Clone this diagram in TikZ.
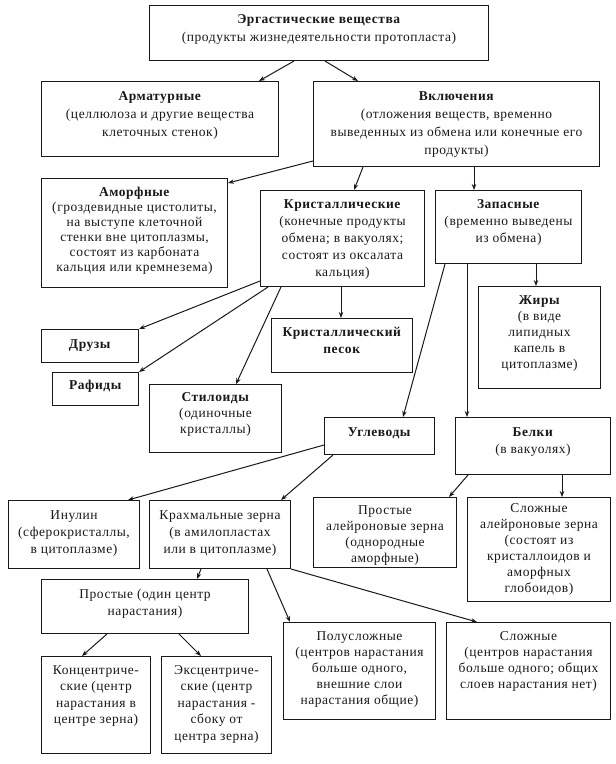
\documentclass[tikz,border=0pt]{standalone}
\usepackage{fontspec}
\setmainfont{Liberation Serif}[LetterSpace=4]
\usetikzlibrary{arrows.meta}
\newcommand\bxt[5][16]{\parbox[c][#3pt][t]{#2pt}{\fontsize{13.5}{#1}\selectfont\centering\vspace*{#4pt}\strut #5\par}}
\tikzset{
  bx/.style={draw=black!90, line width=1pt, inner sep=0pt, anchor=north west, text=black!90, fill=white},
  arr/.style={draw=black!90, line width=1pt, -{Stealth[length=6pt,width=4.5pt]}},
}
\begin{document}
\begin{tikzpicture}[x=1pt,y=-1pt]
\useasboundingbox[fill=white] (0,0) rectangle (616,764);
% level 0
\node[bx] (top) at (149,5) {\bxt[18]{339}{55}{5}{\textbf{Эргастические вещества}\\(продукты жизнедеятельности протопласта)}};
% level 1
\node[bx] (arm) at (41,81) {\bxt[18]{237}{75}{6}{\textbf{Арматурные}\\(целлюлоза и другие вещества\\клеточных стенок)}};
\node[bx] (vkl) at (313,81) {\bxt[18]{286}{85}{6}{\textbf{Включения}\\(отложения веществ, временно\\выведенных из обмена или конечные его\\продукты)}};
% level 2
\node[bx] (amo) at (41,178) {\bxt[15]{186}{109}{7}{\textbf{Аморфные}\\(гроздевидные цистолиты,\\на выступе клеточной\\стенки вне цитоплазмы,\\состоят из карбоната\\кальция или кремнезема)}};
\node[bx] (kri) at (260,190) {\bxt[17]{164}{96}{6}{\textbf{Кристаллические}\\(конечные продукты\\обмена; в вакуолях;\\состоят из оксалата\\кальция)}};
\node[bx] (zap) at (435,190) {\bxt[17]{146}{73}{6}{\textbf{Запасные}\\(временно выведены\\из обмена)}};
% level 3
\node[bx] (zhi) at (478,286) {\bxt{122}{102}{7}{\textbf{Жиры}\\(в виде\\липидных\\капель в\\цитоплазме)}};
\node[bx] (dru) at (41,329) {\bxt{97}{33}{8}{\textbf{Друзы}}};
\node[bx] (raf) at (52,372) {\bxt{86}{33}{6}{\textbf{Рафиды}}};
\node[bx] (pes) at (271,318) {\bxt[17]{141}{54}{6}{\textbf{Кристаллический}\\\textbf{песок}}};
\node[bx] (sti) at (149,384) {\bxt{132}{68}{6}{\textbf{Стилоиды}\\(одиночные\\кристаллы)}};
\node[bx] (ugl) at (324,417) {\bxt{110}{37}{8}{\textbf{Углеводы}}};
\node[bx] (bel) at (455,417) {\bxt[17]{155}{57}{7}{\textbf{Белки}\\(в вакуолях)}};
% level 4
\node[bx] (inu) at (8,500) {\bxt[17]{131}{68}{7}{Инулин\\(сферокристаллы,\\в цитоплазме)}};
\node[bx] (kra) at (149,500) {\bxt[17]{141}{68}{7}{Крахмальные зерна\\(в амилопластах\\или в цитоплазме)}};
\node[bx] (pal) at (313,497) {\bxt{143}{70}{6}{Простые\\алейроновые зерна\\(однородные\\аморфные)}};
\node[bx] (sal) at (467,497) {\bxt{143}{104}{4}{Сложные\\алейроновые зерна\\(состоят из\\кристаллоидов и\\аморфных\\глобоидов)}};
% level 5
\node[bx] (pro) at (41,579) {\bxt[17]{207}{54}{7}{Простые (один центр\\нарастания)}};
\node[bx] (kon) at (41,656) {\bxt[16.5]{109}{97}{6}{Концентриче-\\ские (центр\\нарастания в\\центре зерна)}};
\node[bx] (eks) at (161,656) {\bxt[16.5]{110}{97}{6}{Эксцентриче-\\ские (центр\\нарастания -\\сбоку от\\центра зерна)}};
\node[bx] (pol) at (283,622) {\bxt{152}{97}{7}{Полусложные\\(центров нарастания\\больше одного,\\внешние слои\\нарастания общие)}};
\node[bx] (slo) at (446,622) {\bxt{164}{97}{7}{Сложные\\(центров нарастания\\больше одного; общих\\слоев нарастания нет)}};
% connectors
\draw[arr] ([xshift=145pt]top.south west) -- ([xshift=218pt]arm.north west);
\draw[arr] ([xshift=176pt]top.south west) -- ([xshift=45pt]vkl.north west);
\draw[arr] ([yshift=6pt]vkl.south west) -- ([yshift=-5pt]amo.north east);
\draw[arr] ([xshift=50pt]vkl.south west) -- ([xshift=94pt]kri.north west);
\draw[arr] ([xshift=161pt]vkl.south west) -- ([xshift=39pt]zap.north west);
\draw[arr] ([yshift=6pt]kri.south west) -- (dru.north east);
\draw[arr] ([xshift=8pt]kri.south west) -- (raf.north east);
\draw[arr] ([xshift=21pt]kri.south west) -- ([xshift=87pt]sti.north west);
\draw[arr] ([xshift=81pt]kri.south west) -- ([xshift=70pt]pes.north west);
\draw[arr] ([xshift=10pt]zap.south west) -- ([xshift=79pt]ugl.north west);
\draw[arr] ([xshift=32pt]zap.south west) -- ([xshift=12pt]bel.north west);
\draw[arr] ([xshift=101pt]zap.south west) -- ([xshift=58pt]zhi.north west);
\draw[arr] ([yshift=10pt]ugl.south west) -- ([xshift=120pt]inu.north west);
\draw[arr] ([xshift=9pt]ugl.south west) -- ([xshift=132pt]kra.north west);
\draw[arr] ([xshift=13pt]bel.south west) -- ([xshift=136pt]pal.north west);
\draw[arr] ([xshift=107pt]bel.south west) -- ([xshift=95pt]sal.north west);
\draw[arr] ([xshift=52pt]kra.south west) -- ([xshift=156pt]pro.north west);
\draw[arr] ([xshift=118pt]kra.south west) -- ([xshift=7pt]pol.north west);
\draw[arr] (kra.south east) -- ([xshift=31pt]slo.north west);
\draw[arr] ([xshift=66pt]pro.south west) -- ([xshift=41pt]kon.north west);
\draw[arr] ([xshift=138pt]pro.south west) -- ([xshift=40pt]eks.north west);
\end{tikzpicture}
\end{document}
